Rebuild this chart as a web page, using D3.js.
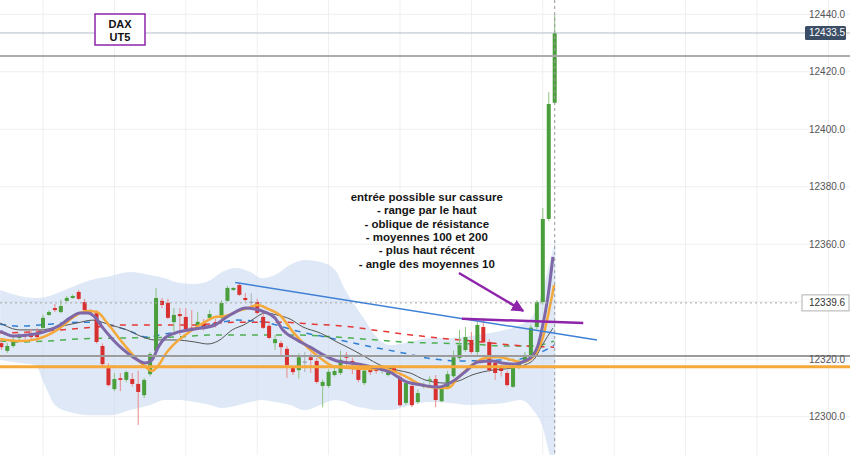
<!DOCTYPE html>
<html><head><meta charset="utf-8">
<script src="https://cdn.jsdelivr.net/npm/d3@7"></script>
<style>
html,body{margin:0;padding:0;background:#fff;}
svg{display:block;}
</style></head>
<body>
<svg id="chart" width="850" height="455"></svg>
<script>
// ---------- DATA ----------
const candleOpen = [12325.6,12322.9,12324.6,12327.4,12328.8,12329.1,12329.1,12330.9,12335.4,12337.8,12336.4,12340.3,12341.3,12343.4,12339.9,12336.8,12336.0,12324.6,12316.9,12309.6,12313.4,12312.8,12313.1,12311.4,12307.5,12314.8,12322.9,12340.3,12339.6,12332.9,12335.7,12334.7,12331.0,12331.9,12332.6,12334.4,12332.9,12334.4,12340.3,12344.1,12345.8,12341.3,12340.0,12339.9,12334.7,12331.6,12325.6,12325.6,12323.6,12316.9,12316.2,12319.2,12320.7,12319.4,12310.7,12310.7,12314.5,12315.2,12321.5,12319.4,12317.3,12311.7,12316.9,12316.6,12315.9,12314.5,12316.9,12313.8,12304.8,12310.7,12305.1,12310.4,12312.5,12313.1,12305.4,12310.0,12314.1,12320.4,12323.2,12326.7,12322.5,12331.2,12326.0,12318.7,12316.9,12315.2,12310.4,12317.0,12319.0,12320.9,12331.2,12339.9,12368.8,12409.2];
const candleHigh = [12326.7,12325.6,12327.7,12329.0,12329.5,12330.5,12330.8,12335.5,12337.0,12339.2,12340.7,12342.0,12342.5,12344.1,12341.0,12337.5,12337.0,12325.5,12318.6,12315.2,12315.2,12316.0,12315.2,12316.0,12313.5,12322.5,12344.8,12341.3,12341.0,12337.8,12337.8,12337.8,12337.1,12336.4,12334.0,12337.1,12334.0,12340.5,12345.5,12345.0,12346.5,12343.0,12343.0,12341.0,12336.0,12332.5,12328.4,12326.4,12324.5,12317.5,12322.0,12322.5,12322.0,12320.5,12313.0,12316.5,12317.0,12323.0,12322.5,12320.5,12318.0,12316.5,12317.5,12317.5,12318.0,12316.5,12318.0,12315.5,12312.5,12312.0,12309.5,12312.0,12314.0,12314.5,12311.0,12316.0,12323.0,12330.2,12331.2,12329.5,12332.9,12334.3,12327.0,12319.5,12318.0,12316.0,12318.0,12320.0,12322.5,12332.0,12340.6,12372.6,12412.9,12439.8];
const candleLow = [12323.2,12322.2,12324.0,12326.5,12327.0,12326.7,12326.0,12330.0,12335.0,12336.4,12336.0,12340.0,12341.0,12340.6,12336.5,12335.5,12325.5,12317.0,12310.5,12308.9,12308.9,12312.0,12310.5,12297.1,12306.5,12314.0,12322.0,12337.8,12334.0,12329.5,12328.4,12330.0,12330.0,12330.2,12330.0,12333.5,12331.0,12334.0,12340.0,12343.8,12342.0,12340.0,12338.5,12335.5,12330.5,12327.0,12323.2,12321.5,12313.5,12314.5,12313.3,12315.5,12315.2,12311.5,12303.3,12310.0,12314.0,12314.5,12318.0,12314.8,12312.0,12311.0,12314.5,12315.0,12315.0,12314.0,12315.0,12303.5,12304.0,12303.3,12304.5,12309.8,12311.0,12303.3,12305.0,12309.5,12313.5,12319.5,12322.5,12321.8,12321.5,12325.5,12315.5,12312.8,12314.0,12310.5,12310.0,12316.5,12318.5,12320.5,12330.5,12339.0,12368.0,12408.5];
const candleClose = [12324.2,12324.6,12326.7,12328.1,12328.1,12327.7,12327.7,12334.4,12336.4,12337.1,12338.5,12341.3,12342.0,12341.0,12337.1,12336.5,12326.0,12318.3,12311.0,12313.1,12312.8,12315.5,12311.4,12308.6,12312.8,12321.8,12341.3,12338.9,12334.4,12335.4,12335.0,12330.5,12330.7,12333.0,12331.5,12335.7,12331.9,12339.6,12344.8,12344.8,12342.4,12340.6,12340.0,12336.1,12330.9,12327.4,12327.0,12324.2,12318.0,12315.5,12320.7,12319.2,12319.7,12312.1,12312.1,12315.6,12315.9,12319.8,12320.5,12318.3,12312.8,12316.0,12315.5,12315.9,12316.9,12315.5,12315.5,12304.0,12311.7,12304.0,12308.2,12311.0,12313.0,12305.8,12310.0,12314.8,12320.7,12324.9,12327.7,12322.5,12331.9,12326.0,12316.2,12315.2,12315.9,12311.0,12317.0,12319.0,12321.5,12331.0,12339.9,12368.8,12408.8,12433.5];

// moving averages: [candle index, price]
const maPurple = [[-0.2,12329.8],[2.0,12328.1],[5.7,12328.8],[8.2,12330.2],[9.9,12331.9],[11.5,12334.3],[13.2,12336.1],[14.6,12336.1],[15.7,12334.7],[17.1,12330.8],[18.8,12326.7],[20.4,12323.5],[22.1,12320.8],[24.1,12318.7],[25.3,12319.7],[26.3,12323.9],[27.5,12327.4],[29.2,12329.1],[32.5,12330.5],[35.9,12331.9],[37.6,12334.3],[39.3,12336.4],[41.0,12337.8],[42.6,12337.5],[44.3,12336.4],[46.0,12334.3],[47.3,12330.2],[49.7,12326.7],[51.9,12324.2],[54.1,12321.5],[56.4,12319.4],[58.6,12318.7],[60.8,12318.0],[63.1,12316.9],[65.3,12315.5],[67.8,12312.4],[70.7,12311.0],[73.4,12310.3],[75.7,12312.1],[77.9,12315.5],[80.1,12319.0],[82.5,12319.4],[84.1,12318.7],[86.3,12318.3],[88.0,12319.4],[89.4,12321.5],[90.2,12324.9],[91.0,12331.9],[91.9,12342.3],[92.7,12355.6]];
const maOrange = [[-0.2,12327.0],[3.1,12326.3],[6.0,12327.0],[9.4,12330.2],[12.7,12335.4],[14.4,12336.8],[16.1,12336.4],[17.8,12332.6],[20.0,12326.7],[22.1,12321.5],[24.5,12316.9],[25.3,12315.9],[26.7,12318.7],[27.5,12321.5],[29.2,12325.6],[30.9,12328.4],[32.5,12330.8],[34.2,12332.9],[35.9,12334.7],[37.6,12335.0],[39.3,12336.4],[41.5,12337.8],[43.1,12338.9],[44.8,12337.5],[46.8,12335.4],[49.0,12329.5],[51.4,12324.2],[53.6,12320.4],[55.7,12317.6],[58.6,12316.9],[61.5,12316.6],[63.6,12316.6],[65.3,12316.2],[67.5,12314.5],[70.7,12311.0],[73.4,12310.0],[75.1,12310.0],[76.7,12313.4],[79.1,12318.0],[81.3,12320.4],[83.5,12320.8],[85.8,12319.7],[87.5,12319.0],[89.2,12320.4],[90.2,12323.2],[91.0,12327.4],[91.9,12335.4],[92.9,12345.8]];
const maGray = [[-0.2,12332.6],[3.1,12330.2],[6.5,12330.2],[9.4,12331.2],[12.7,12332.6],[15.4,12333.6],[18.3,12331.9],[21.1,12330.2],[23.8,12327.7],[25.8,12326.7],[29.2,12326.7],[32.5,12326.0],[34.7,12325.3],[36.4,12326.3],[38.8,12330.2],[41.0,12332.2],[42.6,12334.3],[44.3,12336.1],[46.3,12335.4],[48.5,12334.0],[50.7,12331.2],[53.6,12329.1],[56.4,12326.0],[59.1,12323.2],[61.5,12320.4],[63.6,12318.0],[66.5,12316.2],[68.7,12315.2],[71.2,12312.8],[74.6,12311.7],[76.8,12312.4],[79.1,12314.5],[82.5,12316.2],[85.8,12316.9],[88.0,12318.0],[89.7,12320.4],[90.9,12324.9],[92.7,12330.8]];
const maRed = [[-0.2,12329.1],[4.8,12329.5],[9.9,12330.2],[13.7,12330.8],[20.8,12331.9],[27.5,12331.9],[32.5,12331.9],[39.3,12332.9],[46.8,12332.9],[52.4,12332.2],[59.1,12331.2],[62.5,12330.2],[67.5,12328.8],[73.4,12327.4],[80.8,12326.0],[85.8,12324.9],[92.9,12324.2]];
const maBlue = [[-0.2,12332.2],[3.1,12331.5],[8.2,12332.2],[13.2,12332.9],[16.6,12332.6],[21.1,12330.2],[24.5,12327.7],[27.5,12328.8],[30.9,12329.8],[36.4,12332.6],[39.6,12333.6],[42.6,12333.3],[44.8,12332.6],[49.7,12329.8],[55.2,12327.4],[61.5,12324.6],[67.5,12322.2],[72.5,12320.1],[77.1,12319.4],[83.8,12319.7],[87.2,12320.1],[89.7,12321.5],[92.9,12324.9]];
const maGreen = [[-0.2,12326.3],[3.1,12326.0],[7.7,12326.3],[12.7,12327.0],[21.1,12327.4],[29.2,12327.7],[34.7,12328.4],[44.8,12328.4],[50.2,12328.4],[56.4,12327.7],[63.1,12326.7],[67.5,12326.0],[73.4,12325.6],[79.1,12325.3],[84.7,12324.6],[89.2,12324.6],[92.9,12326.3]];

// bollinger-type band: [index, upper, lower]
const band = [[-0.2,12344.1,12319.7],[3.1,12342.0,12318.7],[5.7,12341.3,12318.0],[7.3,12341.6,12311.0],[9.0,12342.7,12304.1],[11.5,12344.8,12301.6],[14.9,12347.5,12300.5],[18.3,12348.9,12300.5],[21.6,12350.3,12302.3],[25.0,12349.3,12304.1],[27.5,12348.2,12305.8],[30.0,12346.5,12305.8],[32.5,12346.2,12305.1],[35.1,12347.5,12304.1],[37.1,12350.3,12303.0],[39.3,12351.7,12303.7],[41.8,12350.3,12305.1],[43.8,12348.2,12305.8],[46.0,12349.3,12305.1],[48.5,12352.8,12304.1],[51.0,12354.5,12302.3],[53.6,12353.8,12304.1],[56.1,12351.0,12305.8],[57.8,12344.1,12305.1],[59.4,12338.9,12303.7],[61.1,12333.6,12303.0],[62.8,12328.4,12302.3],[65.3,12324.9,12302.3],[68.7,12326.0,12304.1],[72.0,12327.4,12305.1],[75.4,12327.4,12304.8],[78.8,12328.1,12304.1],[82.1,12329.1,12304.4],[84.6,12330.2,12304.8],[87.2,12331.9,12305.8],[89.4,12335.4,12302.3],[91.0,12344.1,12296.3],[92.2,12353.8,12286.6],[93.1,12361.5,12283.1]];

const priceTicks = [12300,12320,12340,12360,12380,12400,12420,12440];
const lastPrice = 12433.5;
const markedPrice = 12339.6;
const levelTop = 12425.5;     // grey horizontal
const levelGrey = 12321.1;    // grey horizontal
const levelOrange = 12317.4;  // orange horizontal
const trendLine = [[39.3,12346.7],[100.1,12326.7]];
const purpleLevel = [[77.4,12334.1],[97.8,12332.6]];
const arrowPts = [[76.9,12350.0],[87.7,12336.8]];
const noteLines = ["entrée possible sur cassure","- range par le haut","- oblique de résistance","- moyennes 100 et 200","- plus haut récent","- angle des moyennes 10"];
const noteAnchor = [71.5, 12375.0];
const titleLines = ["DAX","UT5"];

// ---------- DRAW ----------
const W = 850, H = 455;
const svg = d3.select("#chart");
const x = d3.scaleLinear().domain([0, 93]).range([1.35, 554.7]);
const y = d3.scaleLinear().domain([12300, 12440]).range([416.7, 14.3]);

svg.append("defs").append("clipPath").attr("id","plot")
  .append("rect").attr("x",0).attr("y",0).attr("width",800).attr("height",H);

// grid
const gridIdx = d3.range(7, 140, 12);
svg.append("g").selectAll("line").data(gridIdx).join("line")
  .attr("x1",d=>x(d)).attr("x2",d=>x(d)).attr("y1",0).attr("y2",H)
  .attr("stroke","#eeeff2").attr("stroke-width",1);
svg.append("g").selectAll("line").data(priceTicks).join("line")
  .attr("x1",0).attr("x2",W).attr("y1",d=>y(d)).attr("y2",d=>y(d))
  .attr("stroke","#eeeff2").attr("stroke-width",1);

const plot = svg.append("g").attr("clip-path","url(#plot)");

// band
plot.append("path").datum(band)
  .attr("d", d3.area().x(d=>x(d[0])).y0(d=>y(d[2])).y1(d=>y(d[1])).curve(d3.curveMonotoneX))
  .attr("fill","#c2d5ee").attr("fill-opacity",0.55);

// horizontal levels
function hline(p, color, w, dash, x2){
  svg.append("line").attr("x1",0).attr("x2",x2||W).attr("y1",y(p)).attr("y2",y(p))
    .attr("stroke",color).attr("stroke-width",w).attr("stroke-dasharray",dash||null);
}
hline(lastPrice, "#b3bccb", 1);
hline(levelTop, "#adadad", 2);
hline(markedPrice, "#a6a6a6", 1, "2,3", 800);

// crosshair vertical
svg.append("line").attr("x1",x(93)).attr("x2",x(93)).attr("y1",0).attr("y2",H)
  .attr("stroke","#9a9a9a").attr("stroke-width",1).attr("stroke-dasharray","3,3");

// moving averages
const line = d3.line().x(d=>x(d[0])).y(d=>y(d[1])).curve(d3.curveMonotoneX);
plot.append("path").datum(maGreen).attr("d",line).attr("fill","none").attr("stroke","#4caf50").attr("stroke-width",1.5).attr("stroke-dasharray","6,6");
plot.append("path").datum(maRed).attr("d",line).attr("fill","none").attr("stroke","#e53935").attr("stroke-width",1.5).attr("stroke-dasharray","6,6");
plot.append("path").datum(maBlue).attr("d",line).attr("fill","none").attr("stroke","#2f7fd2").attr("stroke-width",1.5).attr("stroke-dasharray","6,6");
plot.append("path").datum(maGray).attr("d",line).attr("fill","none").attr("stroke","#555").attr("stroke-width",1);

// candles
const idx = d3.range(candleOpen.length);
const col = i => candleClose[i] > candleOpen[i] ? "#4a9e3c" : (candleClose[i] < candleOpen[i] ? "#d8302f" : "#8f9aa3");
const wcol = i => candleClose[i] > candleOpen[i] ? "#8cc47f" : (candleClose[i] < candleOpen[i] ? "#ea8a8a" : "#aab2b8");
const cg = plot.append("g");
cg.selectAll("line.w").data(idx).join("line").attr("class","w")
  .attr("x1",i=>x(i)).attr("x2",i=>x(i)).attr("y1",i=>y(candleHigh[i])).attr("y2",i=>y(candleLow[i]))
  .attr("stroke",wcol).attr("stroke-width",1);
cg.selectAll("rect").data(idx).join("rect")
  .attr("x",i=>x(i)-2).attr("width",4)
  .attr("y",i=>y(Math.max(candleOpen[i],candleClose[i])))
  .attr("height",i=>Math.max(1.2, Math.abs(y(candleOpen[i])-y(candleClose[i]))))
  .attr("fill",col);

// thick averages on top
plot.append("path").datum(maOrange).attr("d",line).attr("fill","none").attr("stroke","#f4a93a").attr("stroke-width",2.5);
plot.append("path").datum(maPurple).attr("d",line).attr("fill","none").attr("stroke","#7f68a8").attr("stroke-width",3);

hline(levelGrey, "#9c9c9c", 2);
hline(levelOrange, "#f4a93a", 3);

// annotations
const ln = d3.line().x(d=>x(d[0])).y(d=>y(d[1]));
svg.append("path").datum(trendLine).attr("d",ln).attr("stroke","#3f80d6").attr("stroke-width",1.5).attr("fill","none");
svg.append("path").datum(purpleLevel).attr("d",ln).attr("stroke","#8e24aa").attr("stroke-width",2.5).attr("fill","none");

svg.append("defs").append("marker").attr("id","ah").attr("viewBox","0 0 10 10")
  .attr("refX",9).attr("refY",5).attr("markerWidth",5).attr("markerHeight",5).attr("orient","auto")
  .append("path").attr("d","M0,0 L10,5 L0,10 z").attr("fill","#8e24aa");
svg.append("path").datum(arrowPts).attr("d",ln).attr("stroke","#8e24aa").attr("stroke-width",2.5)
  .attr("fill","none").attr("marker-end","url(#ah)");

const note = svg.append("text").attr("font-family","'Liberation Sans', Arial, sans-serif")
  .attr("font-size",11.5).attr("font-weight","bold").attr("fill","#151515").attr("text-anchor","middle");
noteLines.forEach((t,k)=>{
  note.append("tspan").attr("x",x(noteAnchor[0])).attr("y",y(noteAnchor[1]) + k*13.3).text(t);
});

// title box
svg.append("rect").attr("x",95).attr("y",14).attr("width",50).attr("height",31)
  .attr("fill","#fff").attr("stroke","#8e24aa").attr("stroke-width",1.5);
titleLines.forEach((t,k)=>{
  svg.append("text").attr("x",120).attr("y",27.5 + k*13).attr("text-anchor","middle")
    .attr("font-family","'Liberation Sans', Arial, sans-serif").attr("font-size",11).attr("font-weight","bold")
    .attr("fill","#111").text(t);
});

// axis labels
const fmt = d3.format(".1f");
svg.append("g").selectAll("text").data(priceTicks).join("text")
  .attr("x",809).attr("y",d=>y(d)+3.5)
  .attr("font-family","'Liberation Sans', Arial, sans-serif").attr("font-size",10)
  .attr("fill","#555").text(d=>fmt(d));

// marked price label
svg.append("rect").attr("x",802).attr("y",y(markedPrice)-8).attr("width",47).attr("height",16)
  .attr("fill","#fff").attr("stroke","#b0b0b0").attr("stroke-width",1);
svg.append("text").attr("x",809).attr("y",y(markedPrice)+3.5)
  .attr("font-family","'Liberation Sans', Arial, sans-serif").attr("font-size",10).attr("fill","#333").text(fmt(markedPrice));

// last price label
svg.append("rect").attr("x",805).attr("y",y(lastPrice)-7).attr("width",41).attr("height",14).attr("rx",1.5)
  .attr("fill","#3c4e66");
svg.append("text").attr("x",809).attr("y",y(lastPrice)+3.5)
  .attr("font-family","'Liberation Sans', Arial, sans-serif").attr("font-size",10).attr("fill","#fff").text(fmt(lastPrice));
</script>
</body></html>
